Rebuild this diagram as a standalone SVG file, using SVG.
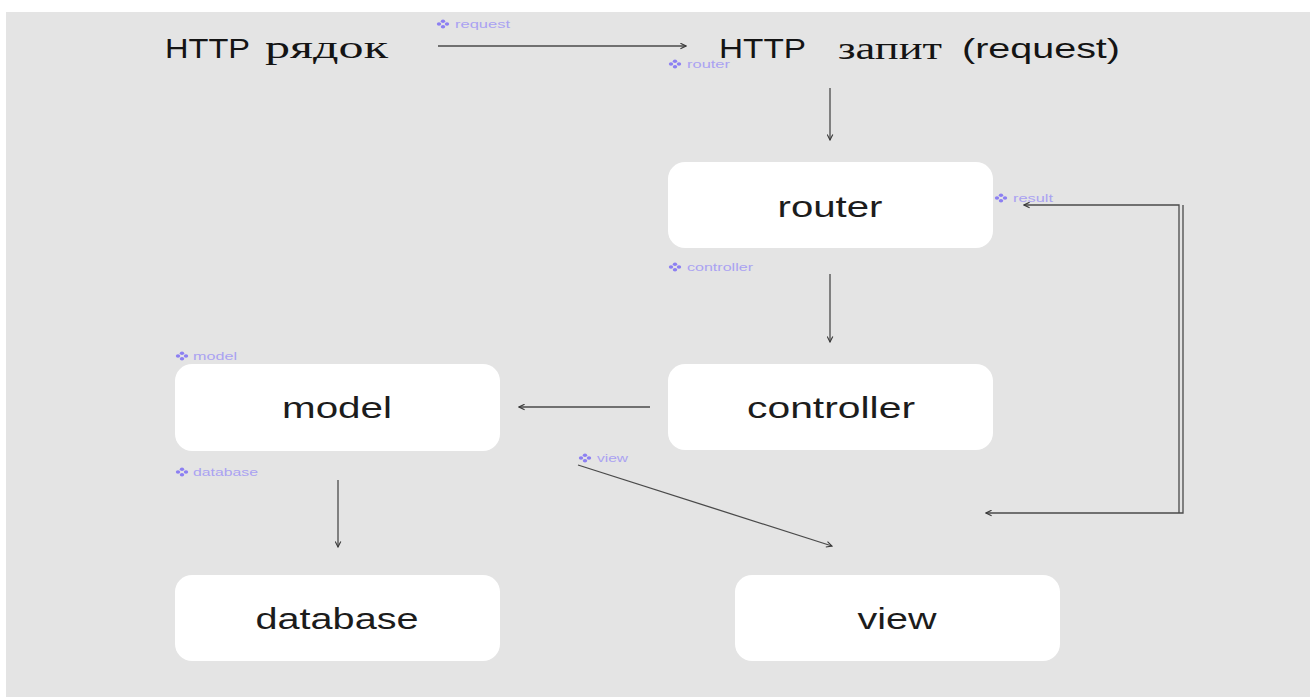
<svg xmlns="http://www.w3.org/2000/svg" xmlns:xlink="http://www.w3.org/1999/xlink" width="1314" height="697" viewBox="0 0 1314 697">
  <style>
    .node rect { fill: #ffffff; }
    .lbl { font-family: "Liberation Sans", Arial, sans-serif; font-size: 29px; fill: #1c1c1c; text-anchor: middle; }
    .top { font-family: "Liberation Sans", Arial, sans-serif; font-size: 28px; fill: #141414; }
    .ser { font-family: "Liberation Serif", "Times New Roman", serif; font-size: 32px; fill: #141414; }
    .tag { font-family: "Liberation Sans", Arial, sans-serif; font-size: 10px; fill: #aaa2f2; }
    .conn { fill: none; stroke: #4a4a4a; stroke-width: 1.3; marker-end: url(#arr); }
  </style>
  <defs>
    <marker id="arr" viewBox="0 0 10 10" refX="9" refY="5" markerWidth="7" markerHeight="7" orient="auto" markerUnits="userSpaceOnUse">
      <path d="M1,1 L9,5 L1,9" fill="none" stroke="#3a3a3a" stroke-width="1.6"/>
    </marker>
    <g id="ico">
      <ellipse cx="-4" cy="0" rx="2.2" ry="1.8" fill="#8c7ff2"/>
      <ellipse cx="4" cy="0" rx="2.2" ry="1.8" fill="#8c7ff2"/>
      <ellipse cx="0" cy="-2.8" rx="2.2" ry="1.8" fill="#8c7ff2"/>
      <ellipse cx="0" cy="2.8" rx="2.2" ry="1.8" fill="#8c7ff2"/>
    </g>
  </defs>

  <rect x="0" y="0" width="1314" height="697" fill="#ffffff"/>
  <rect x="6" y="12" width="1304" height="685" fill="#e4e4e4"/>

  <g id="http-string">
    <text class="top" x="165" y="58" textLength="85" lengthAdjust="spacingAndGlyphs">HTTP</text>
    <text class="ser" x="265" y="58" textLength="123" lengthAdjust="spacingAndGlyphs">рядок</text>
  </g>

  <g id="http-request">
    <text class="top" x="719" y="58" textLength="87" lengthAdjust="spacingAndGlyphs">HTTP</text>
    <text class="ser" x="838" y="59" textLength="104" lengthAdjust="spacingAndGlyphs">запит</text>
    <text class="top" x="962" y="58" textLength="158" lengthAdjust="spacingAndGlyphs">(request)</text>
  </g>

  <g id="router" class="node">
    <rect x="668" y="162" width="325" height="86" rx="17"/>
    <text class="lbl" x="830" y="217" textLength="105" lengthAdjust="spacingAndGlyphs">router</text>
  </g>

  <g id="controller" class="node">
    <rect x="668" y="364" width="325" height="86" rx="17"/>
    <text class="lbl" x="831" y="418" textLength="168" lengthAdjust="spacingAndGlyphs">controller</text>
  </g>

  <g id="model" class="node">
    <rect x="175" y="364" width="325" height="87" rx="17"/>
    <text class="lbl" x="337" y="418" textLength="110" lengthAdjust="spacingAndGlyphs">model</text>
  </g>

  <g id="database" class="node">
    <rect x="175" y="575" width="325" height="86" rx="17"/>
    <text class="lbl" x="337" y="629" textLength="163" lengthAdjust="spacingAndGlyphs">database</text>
  </g>

  <g id="view" class="node">
    <rect x="735" y="575" width="325" height="86" rx="17"/>
    <text class="lbl" x="897" y="629" textLength="79" lengthAdjust="spacingAndGlyphs">view</text>
  </g>

  <g id="connectors">
    <path class="conn" d="M438,46 L686,46"/>
    <path class="conn" d="M830,88 L830,140"/>
    <path class="conn" d="M830,274 L830,342"/>
    <path class="conn" d="M650,407 L519,407"/>
    <path class="conn" d="M338,480 L338,547"/>
    <path class="conn" d="M578,465 L832,546"/>
    <path class="conn" d="M1179,513 L1179,205 L1024,205"/>
    <path class="conn" d="M1183,205 L1183,513 L986,513"/>
  </g>

  <g id="connector-labels">
    <use xlink:href="#ico" x="443" y="24"/>
    <text class="tag" x="455" y="27.5" textLength="55" lengthAdjust="spacingAndGlyphs">request</text>
    <use xlink:href="#ico" x="675" y="64"/>
    <text class="tag" x="687" y="67.5" textLength="43" lengthAdjust="spacingAndGlyphs">router</text>
    <use xlink:href="#ico" x="1001" y="198"/>
    <text class="tag" x="1013" y="201.5" textLength="40" lengthAdjust="spacingAndGlyphs">result</text>
    <use xlink:href="#ico" x="675" y="267"/>
    <text class="tag" x="687" y="270.5" textLength="66" lengthAdjust="spacingAndGlyphs">controller</text>
    <use xlink:href="#ico" x="182" y="356"/>
    <text class="tag" x="193" y="359.5" textLength="44" lengthAdjust="spacingAndGlyphs">model</text>
    <use xlink:href="#ico" x="182" y="472"/>
    <text class="tag" x="193" y="475.5" textLength="65" lengthAdjust="spacingAndGlyphs">database</text>
    <use xlink:href="#ico" x="585" y="458"/>
    <text class="tag" x="597" y="461.5" textLength="31" lengthAdjust="spacingAndGlyphs">view</text>
  </g>
</svg>
